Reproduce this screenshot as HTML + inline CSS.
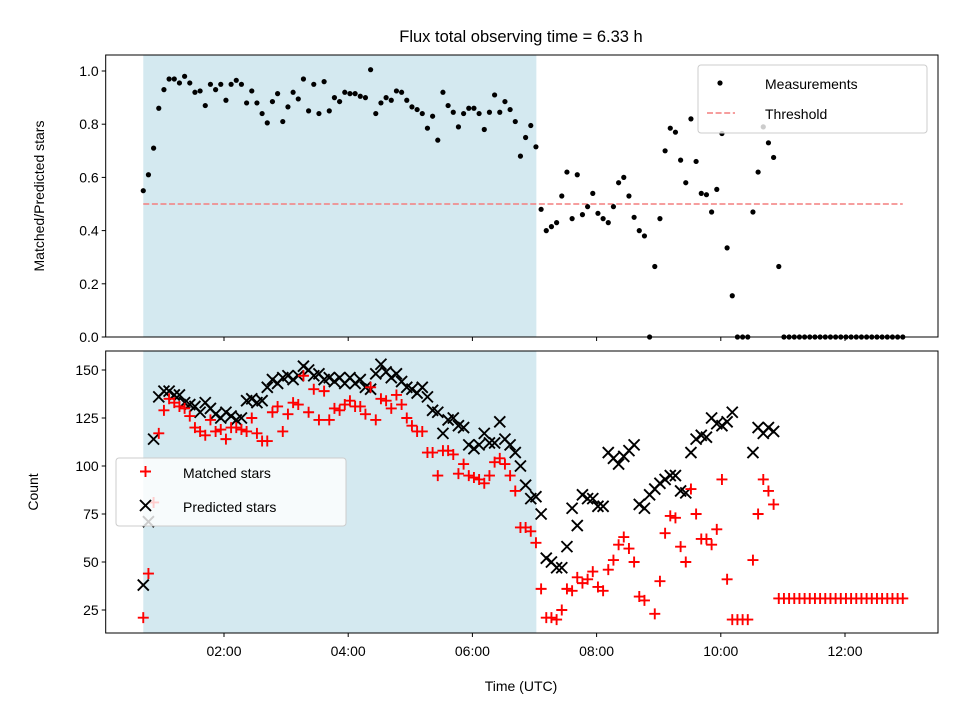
<!DOCTYPE html>
<html><head><meta charset="utf-8"><style>
body{margin:0;background:#fff;}
svg text{font-family:"Liberation Sans","DejaVu Sans",sans-serif;}
</style></head><body>
<svg id="c" width="960" height="720" viewBox="0 0 960 720" xmlns="http://www.w3.org/2000/svg"></svg>
<script>
const startHour = 0.70;
const stepHour = 0.0832;
const ratio = [0.55,0.61,0.71,0.86,0.93,0.97,0.97,0.955,0.98,0.955,
0.92,0.925,0.87,0.95,0.93,0.95,0.89,0.95,0.965,0.95,
0.88,0.925,0.88,0.84,0.805,0.885,0.915,0.81,0.865,0.92,
0.895,0.97,0.85,0.95,0.84,0.96,0.85,0.90,0.885,0.92,
0.915,0.915,0.905,0.90,1.005,0.84,0.88,0.90,0.89,0.925,
0.92,0.89,0.865,0.855,0.84,0.785,0.83,0.74,0.92,0.87,
0.845,0.79,0.84,0.86,0.86,0.84,0.78,0.845,0.91,0.845,
0.885,0.855,0.81,0.68,0.75,0.795,0.715,
0.48,0.40,0.415,0.43,0.53,0.62,0.445,0.61,0.46,0.49,0.54,0.465,0.445,0.43,0.49,0.58,0.60,0.53,0.45,0.40,0.38,0.0,0.265,0.445,0.70,0.785,0.77,0.665,0.58,0.82,0.66,0.54,0.535,0.47,0.555,0.765,0.335,0.155,0,0,0,0.47,0.62,0.79,0.73,0.675,0.265,
0,0,0,0,0,0,0,0,0,0,0,0,0,0,0,0,0,0,0,0,0,0,0,0];
const predicted = [38,71,114,136,139,139,137,137,133,132,131,128,133,130,127,125,128,126,124,125,
134,135,133,134,141,145,143,146,147,145,147,152,150,147,148,145,146,144,146,143,
146,143,145,141,140,148,153,149,146,148,144,141,140,138,141,136,129,128,117,124,
125,121,120,111,109,111,117,112,112,123,114,111,107,100,90,83,84,75,52,50,
47,47,58,78,69,85,83,83,79,79,107,104,101,105,108,111,80,78,85,88,
91,93,95,95,87,86,107,114,116,115,125,122,121,123,128,null,null,null,107,120,
117,120,118,null,null,null,null,null,null,null,null,null,null,null,null,null,null,null,null,null,
null,null,null,null,null,null,null,null];
const matched = [21,44,81,117,129,135,133,131,130,126,120,118,116,124,118,119,114,120,120,119,
118,125,117,113,113,128,131,118,127,133,132,147,128,140,124,139,124,130,129,132,
134,131,131,127,141,124,135,134,130,137,132,125,121,118,118,107,107,95,108,108,
106,96,101,95,94,93,91,95,102,104,101,95,87,68,68,66,60,36,21,21,
20,25,36,35,42,39,41,45,37,35,46,51,59,63,57,50,32,30,null,23,
40,65,74,73,58,50,88,75,62,62,59,67,93,41,20,20,20,20,51,75,
93,87,80,31,31,31,31,31,31,31,31,31,31,31,31,31,31,31,31,31,
31,31,31,31,31,31,31,31];
const threshold = 0.5;
const shadeStart = 0.70, shadeEnd = 7.03;
const xTicks = [2,4,6,8,10,12];
const xTickLabels = ["02:00","04:00","06:00","08:00","10:00","12:00"];
const topTicks = [0,0.2,0.4,0.6,0.8,1.0];
const botTicks = [25,50,75,100,125,150];

const NS="http://www.w3.org/2000/svg";
const svg=document.getElementById('c');
function el(tag,attrs,parent){const e=document.createElementNS(NS,tag);for(const k in attrs)e.setAttribute(k,attrs[k]);(parent||svg).appendChild(e);return e;}
const L=105.7,R=938;
const X=t=>99.8+62.1*t;
const T0=55,T1=337, B0=351,B1=633;
const YT=v=>337-266*v;
const YB=v=>610-(v-25)*1.92;
const times=ratio.map((_,i)=>startHour+i*stepHour);

let s=el('rect',{x:X(shadeStart),y:T0,width:X(shadeEnd)-X(shadeStart),height:T1-T0,fill:'#d4e9f0'});


s=el('rect',{x:X(shadeStart),y:B0,width:X(shadeEnd)-X(shadeStart),height:B1-B0,fill:'#d4e9f0'});



let th=el('line',{x1:X(times[0]),x2:X(times[times.length-1]),y1:YT(threshold),y2:YT(threshold),stroke:'#f37f7f','stroke-width':1.6,'stroke-dasharray':'6,2.6'});



const gT=el('g',{});


ratio.forEach((v,i)=>{if(v==null)return;const c=el('circle',{cx:X(times[i]),cy:YT(v),r:2.6,fill:'#000'},gT);

});

const gM=el('g',{stroke:'#ff0000','stroke-width':1.9});


const gP=el('g',{stroke:'#000','stroke-width':1.9});


predicted.forEach((v,i)=>{if(v==null)return;const x=X(times[i]),y=YB(v),d=5.5;
const p=el('path',{d:`M${x-d},${y-d}L${x+d},${y+d}M${x-d},${y+d}L${x+d},${y-d}`,fill:'none'},gP);

});
matched.forEach((v,i)=>{if(v==null)return;const x=X(times[i]),y=YB(v),d=5.5;
const p=el('path',{d:`M${x-d},${y}L${x+d},${y}M${x},${y-d}L${x},${y+d}`,fill:'none'},gM);

});
svg.appendChild(gM);

let f=el('rect',{x:L,y:T0,width:R-L,height:T1-T0,fill:'none',stroke:'#000','stroke-width':1});


f=el('rect',{x:L,y:B0,width:R-L,height:B1-B0,fill:'none',stroke:'#000','stroke-width':1});



xTicks.forEach((t,i)=>{const x=X(t);
el('line',{x1:x,x2:x,y1:T1,y2:T1+4,stroke:'#000'});
el('line',{x1:x,x2:x,y1:B1,y2:B1+4,stroke:'#000'});
const tx=el('text',{x:x,y:B1+23,'font-size':14,'text-anchor':'middle'});tx.textContent=xTickLabels[i];

});
topTicks.forEach(v=>{const y=YT(v);el('line',{x1:L-4,x2:L,y1:y,y2:y,stroke:'#000'});
const tx=el('text',{x:L-7,y:y+5,'font-size':14,'text-anchor':'end'});tx.textContent=v.toFixed(1);

});
botTicks.forEach(v=>{const y=YB(v);el('line',{x1:L-4,x2:L,y1:y,y2:y,stroke:'#000'});
const tx=el('text',{x:L-7,y:y+5,'font-size':14,'text-anchor':'end'});tx.textContent=v;

});
</script>
<svg width="960" height="720" style="position:absolute;left:0;top:0" xmlns="http://www.w3.org/2000/svg">
<text x="521" y="42" font-size="16.5" text-anchor="middle" style="font-family:'Liberation Sans','DejaVu Sans',sans-serif">Flux total observing time = 6.33 h</text>
<text transform="translate(44,196) rotate(-90)" font-size="14" text-anchor="middle" style="font-family:'Liberation Sans','DejaVu Sans',sans-serif">Matched/Predicted stars</text>
<text transform="translate(38,492) rotate(-90)" font-size="14" text-anchor="middle" style="font-family:'Liberation Sans','DejaVu Sans',sans-serif">Count</text>
<text x="521" y="691" font-size="14" text-anchor="middle" style="font-family:'Liberation Sans','DejaVu Sans',sans-serif">Time (UTC)</text>
<g>
<rect x="698" y="65" width="229" height="68" rx="3" fill="#fff" fill-opacity="0.8" stroke="#ccc"/>
<circle cx="720" cy="83" r="2.6" fill="#000"/>
<text x="765" y="89" font-size="14" style="font-family:'Liberation Sans','DejaVu Sans',sans-serif">Measurements</text>
<line x1="707" x2="735" y1="113" y2="113" stroke="#f37f7f" stroke-width="1.6" stroke-dasharray="6,2.6"/>
<text x="765" y="119" font-size="14" style="font-family:'Liberation Sans','DejaVu Sans',sans-serif">Threshold</text>
</g>
<g>
<rect x="116" y="458" width="230" height="68" rx="3" fill="#fff" fill-opacity="0.8" stroke="#ccc"/>
<path d="M140,471.5h11M145.5,466v11" stroke="#f00" stroke-width="1.9"/>
<text x="183" y="478" font-size="14" style="font-family:'Liberation Sans','DejaVu Sans',sans-serif">Matched stars</text>
<path d="M140,500l11,11M140,511l11,-11" stroke="#000" stroke-width="1.9"/>
<text x="183" y="512" font-size="14" style="font-family:'Liberation Sans','DejaVu Sans',sans-serif">Predicted stars</text>
</g>
</svg>
</body></html>
